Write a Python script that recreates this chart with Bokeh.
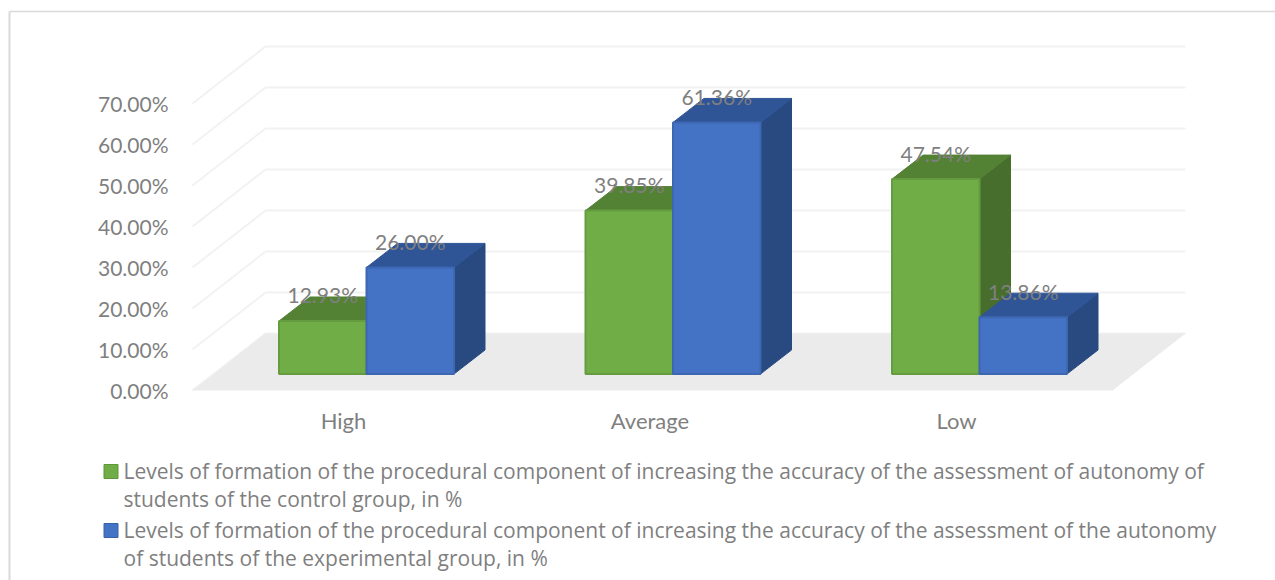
from bokeh.embed import file_html
from bokeh.models import FixedTicker, LinearAxis, NumeralTickFormatter, Range1d
from bokeh.plotting import figure
from bokeh.core.properties import value
from bokeh.resources import INLINE

# Survey results, in percent
categories = ["High", "Average", "Low"]
control_group = [12.93, 39.85, 47.54]
experimental_group = [26.00, 61.36, 13.86]
value_ticks = [0, 10, 20, 30, 40, 50, 60, 70]
legend_lines = [
    ["Levels of formation of the procedural component of increasing the accuracy of the assessment of autonomy of",
     "students of the control group, in %"],
    ["Levels of formation of the procedural component of increasing the accuracy of the assessment of the autonomy",
     "of students of the experimental group, in %"],
]

W, H = 1275, 580
FONT = "Lato"
LEGEND_FONT = "Open Sans"
GREY = "#7f7f7f"

# Scales: page pixels per category and per percentage point
CAT_PX = 306.5
PCT_PX = 4.1
ORIGIN_X, ORIGIN_Y = 366.0, 373.5


def to_x(px):
    return (px - ORIGIN_X) / CAT_PX


def to_y(py):
    return (ORIGIN_Y - py) / PCT_PX


def dx(px):
    return px / CAT_PX


def dy(px):
    return px / PCT_PX


BAR_W = dx(87.5)
DEPTH_X, DEPTH_Y = dx(31), dy(24)
WALL_X0, WALL_X1 = to_x(265), to_x(1185)
WALL_BASE = dy(40.5)
SIDE_X0 = to_x(192)
FRONT_DROP = dy(16.5)

p = figure(width=W, height=H, output_backend="svg", toolbar_location=None,
           x_range=Range1d(to_x(0), to_x(W)), y_range=Range1d(to_y(H), to_y(0)),
           min_border=0, outline_line_color=None, background_fill_color="white",
           border_fill_color="white", x_axis_location=None, y_axis_location=None)
p.grid.visible = False

# Chart frame: left and top edges
p.line([to_x(9), to_x(9)], [to_y(H), to_y(11)], line_color="#d9d9d9", line_width=2)
p.line([to_x(9), to_x(W)], [to_y(11), to_y(11)], line_color="#d9d9d9", line_width=1.5)

# Gridlines on the back wall and the side wall
for t in value_ticks:
    y_back = t + WALL_BASE
    p.line([WALL_X0, WALL_X1], [y_back, y_back], line_color="#f2f2f2", line_width=2)
    p.line([SIDE_X0, WALL_X0], [t - FRONT_DROP, y_back], line_color="#f2f2f2", line_width=2)

# Chart floor
floor_right_front = to_x(1112)
p.patch([SIDE_X0, floor_right_front, WALL_X1, WALL_X0],
        [-FRONT_DROP, -FRONT_DROP, WALL_BASE, WALL_BASE],
        fill_color="#ebebeb", line_color=None)


def draw_bars(values, offset, front, edge, top, side):
    lefts = [i + offset for i in range(len(values))]
    rights = [x + BAR_W for x in lefts]
    p.patches([[r, r + DEPTH_X, r + DEPTH_X, r] for r in rights],
              [[0, DEPTH_Y, v + DEPTH_Y, v] for v in values],
              fill_color=side, line_color=side, line_width=1)
    p.patches([[x, x + DEPTH_X, r + DEPTH_X, r] for x, r in zip(lefts, rights)],
              [[v, v + DEPTH_Y, v + DEPTH_Y, v] for v in values],
              fill_color=top, line_color=top, line_width=1)
    p.quad(left=lefts, right=rights, bottom=0, top=values,
           fill_color=front, line_color=edge, line_width=2)


draw_bars(control_group, -BAR_W, "#70ad47", "#659c40", "#548235", "#476e2d")
draw_bars(experimental_group, 0, "#4472c4", "#3d67b1", "#2f5597", "#294a80")

# Value labels above each bar's top face
label_x = [i - BAR_W / 2 for i in range(3)] + [i + BAR_W / 2 for i in range(3)]
label_y = list(control_group) + list(experimental_group)
label_text = [f"{v:.2f}%" for v in label_y]
p.text(label_x, [v + dy(26) for v in label_y], text=label_text, text_font=value(FONT),
       text_font_size="21px", text_color=GREY, text_align="center", text_baseline="middle")

# Value axis along the front edge of the side wall
p.extra_y_ranges["front"] = Range1d((p.y_range.start + FRONT_DROP) / 100,
                                    (p.y_range.end + FRONT_DROP) / 100)
y_axis = LinearAxis(y_range_name="front", fixed_location=to_x(176),
                    ticker=FixedTicker(ticks=[t / 100 for t in value_ticks]),
                    formatter=NumeralTickFormatter(format="0.00%"),
                    axis_line_color=None, major_tick_line_color=None, minor_tick_line_color=None,
                    major_label_text_font=FONT, major_label_text_font_size="21px",
                    major_label_text_color=GREY, major_label_standoff=2)
p.add_layout(y_axis, "left")

# Category axis under the floor
p.extra_x_ranges["front"] = Range1d(p.x_range.start + dx(23), p.x_range.end + dx(23))
x_axis = LinearAxis(x_range_name="front", fixed_location=to_y(398),
                    ticker=FixedTicker(ticks=list(range(len(categories)))),
                    major_label_overrides={i: c for i, c in enumerate(categories)},
                    axis_line_color=None, major_tick_line_color=None, minor_tick_line_color=None,
                    major_label_text_font=FONT, major_label_text_font_size="22px",
                    major_label_text_color=GREY, major_label_standoff=2)
p.add_layout(x_axis, "below")

# Legend entries with wrapped text
entries = [("#70ad47", "#5f9639", 471, 499), ("#4472c4", "#3a62a8", 530, 558)]
for (fill, edge, line1, line2), lines in zip(entries, legend_lines):
    p.rect(to_x(110.5), to_y(line1), width=dx(14), height=dy(14), fill_color=fill, line_color=edge,
           line_width=1)
    p.text([to_x(123)] * 2, [to_y(line1 - 1), to_y(line2 - 1)], text=lines, text_font=value(LEGEND_FONT),
           text_font_size="21px", text_color=GREY, text_align="left", text_baseline="middle")

open("out.html", "w").write(file_html(p, INLINE))
